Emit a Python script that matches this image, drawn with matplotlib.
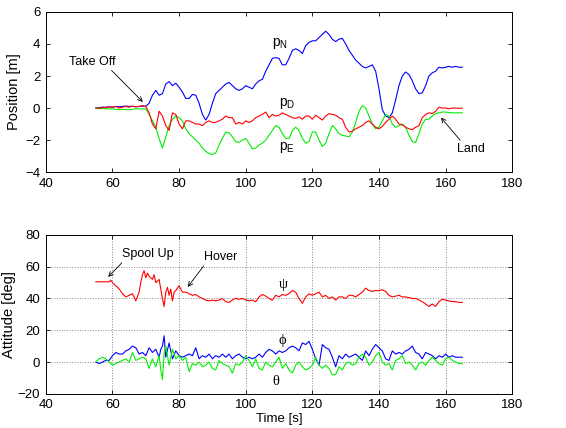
import numpy as np
import matplotlib
matplotlib.use("Agg")
import matplotlib.pyplot as plt

plt.rcParams['font.family'] = ['Liberation Sans', 'DejaVu Sans']
plt.rcParams['mathtext.fontset'] = 'custom'
plt.rcParams['mathtext.rm'] = 'Liberation Sans'

# ---- position data (1 s samples, 55..165 s) ----
tPos = np.arange(55, 166)

pN = [0.0, 0.02, 0.05, 0.05, 0.08, 0.05, 0.1, 0.08, 0.1, 0.12, 0.1, 0.1, 0.08, 0.1, 0.12,
      0.1, 0.3, 0.8, 1.1, 0.8, 0.9, 1.5, 1.65, 1.4, 1.55, 1.3,
      1.0, 0.6, 0.6, 0.85, 0.8, 0.3, -0.4, -0.75, -0.4, 0.3,
      0.9, 1.1, 1.3, 1.5, 1.6, 1.4, 1.2, 1.1, 1.2, 1.4,
      1.3, 1.2, 1.5, 1.7, 1.8, 2.3, 2.7, 3.1, 3.15, 3.1,
      2.7, 2.7, 3.1, 3.6, 3.7, 3.6, 3.4, 3.9, 4.1, 4.2,
      4.2, 4.4, 4.6, 4.8, 4.6, 4.3, 4.15, 4.3, 4.35, 4.0,
      3.6, 3.3, 3.0, 2.8, 2.6, 2.5, 2.6, 2.7, 2.3, 1.2,
      -0.1, -0.5, -0.6, -0.3, 0.5, 1.4, 2.0, 2.25, 2.1, 1.7,
      1.2, 0.9, 0.95, 1.4, 2.0, 2.2, 2.3, 2.55, 2.5, 2.55,
      2.6, 2.55, 2.6, 2.55, 2.55]

pE = [0.0, -0.02, -0.03, -0.05, -0.05, -0.05, -0.08, -0.1, -0.08, -0.1, -0.1, -0.08, -0.05, -0.05, -0.05,
      -0.05, -0.4, -0.8, -1.2, -1.9, -2.5, -1.8, -1.1, -0.7, -0.5, -0.6,
      -0.8, -1.3, -1.6, -1.8, -2.0, -2.2, -2.5, -2.7, -2.85, -2.9,
      -2.8, -2.3, -1.9, -1.5, -1.55, -1.8, -2.1, -2.15, -2.0, -1.9,
      -2.2, -2.55, -2.5, -2.3, -2.2, -2.0, -1.7, -1.4, -1.1, -1.2,
      -1.6, -1.9, -1.9, -1.4, -1.2, -1.4, -1.9, -2.2, -2.1, -1.5,
      -1.5, -2.0, -2.4, -2.2, -1.6, -1.1, -1.3, -1.6, -1.7, -1.75,
      -1.8, -1.5, -0.9, -0.2, 0.15, 0.0, -0.5, -1.0, -1.3, -1.2,
      -0.8, -0.4, -0.5, -1.0, -1.2, -1.1, -1.0, -1.2, -1.7, -2.1,
      -2.15, -1.6, -1.0, -0.7, -0.7, -0.5, -0.35, -0.3, -0.25, -0.25,
      -0.28, -0.3, -0.3, -0.3, -0.3]

pD = [0.0, -0.02, 0.05, 0.02, 0.08, 0.05, 0.1, 0.0, 0.05, 0.1, 0.05, 0.12, 0.08, 0.1, 0.15,
      0.1, -0.3, -1.0, -1.3, -0.2, -0.5, -1.1, -1.4, -0.3, -0.4, -1.0,
      -1.3, -0.8, -0.8, -0.9, -1.0, -1.0, -1.1, -0.9, -0.8, -0.9,
      -0.9, -0.8, -0.7, -0.5, -0.6, -0.6, -1.0, -0.9, -1.0, -0.8,
      -0.9, -0.8, -0.6, -0.5, -0.4, -0.25, -0.6, -0.4, -0.5, -0.45,
      -0.3, -0.4, -0.5, -0.6, -0.65, -0.55, -0.7, -0.5, -0.5, -0.7,
      -0.45, -0.6, -0.75, -0.5, -0.35, -0.4, -0.45, -0.6, -0.7, -1.2,
      -1.5, -1.45, -1.3, -1.2, -1.1, -0.9, -0.8, -1.0, -1.2, -1.3,
      -1.15, -0.9, -0.7, -0.5, -0.7, -1.0, -1.05, -1.2, -1.3, -1.35,
      -1.2, -1.1, -0.6, -0.4, -0.3, -0.35, -0.2, 0.05, 0.0, 0.0,
      -0.05, 0.0, 0.0, -0.02, 0.0]

# ---- attitude data ----
tPsi = [55, 56, 57, 58, 59, 59.5, 60, 61, 62, 63, 64, 65, 66, 67, 68, 68.5, 69, 69.5,
        70, 70.5, 71, 72, 72.5, 73, 74, 74.5, 75, 75.5, 76, 76.5, 77, 77.5, 78, 78.5,
        79, 80, 80.5] + list(range(81, 166))
psi = [50.5, 50.5, 50.5, 50.5, 50.5, 51.5, 50, 48, 46, 43, 41, 42, 43, 38.5, 44, 50, 55, 57.5,
       53, 56, 54, 52, 55, 50, 52, 46, 40, 35, 44, 47, 42, 46, 38.5, 44,
       45, 48, 46,
       44, 44, 43, 42, 42.5, 41, 40, 39, 38.5, 39,
       38.5, 39, 40, 38, 37.5, 39, 40, 39.5, 40, 39,
       38.5, 39, 38, 41, 42.5, 41.5, 40, 39, 42, 41,
       42.5, 42, 43, 45, 44, 40, 37, 41, 43, 42,
       43, 44, 41, 42, 40, 41, 39, 41, 41, 40,
       42, 42, 41, 42.5, 44, 46.5, 45, 44.5, 45, 45,
       45.5, 44.5, 42, 41, 41.5, 42, 41, 41, 40.5, 40,
       40, 39, 38, 36.5, 35, 36.5, 35, 38, 39.5, 39,
       38.5, 38, 38, 37.5, 37.5]

tAng = list(range(55, 75)) + [74.5, 75, 75.5] + list(range(76, 166))
phi = [0, -1, 0, 1, 1, 4, 6, 5, 5, 7, 8, 10, 9, 5, 6, 4, 9, 6, 8, 3,
       8, 10, 16.5,
       3, 12, 2, 7, 4, 3, 4, 5, 4, 9, 2, 4, 3, 5, 2, 4, 3, 5, 3, 5,
       2, 4, 5, 3, 2, 3, 2, 3, 5, 3, 6, 8, 7, 5, 7, 6, 7, 9, 10, 9,
       7, 12, 11, 13, 8, 2, -2, 11, 9, 8, 3, -3, 4, 2, 5, 3, 4, 5, 3, 1,
       7, 4, 8, 11, 9, 7, 2, 1, 7, 5, 6, 5, 7, 8, 10, 6, 5, 2, 6, 5,
       4, 2, 4, 3, 5, 3, 4, 3, 3, 3]
theta = [0, 2, 3, 2, 0, -2, -1, 0, 1, 2, 0, 6, 1, 2, 3, 2, -4, 2, -3, 4,
         -5, -11, 5,
         10, -2, 8, 2, 4, 1, 3, -6, -1, -2, 0, -3, -2, 0, -4, -5, 1, -1, -2,
         -3, -7, -1, -2, 0, 4, 1, -3, 2, -4, -5, 0, -2, -3, 0, 3, -4, -1,
         -5, -7, -2, 0, -3, -5, -4, -2, 3, -2, -4, -2, -4, -8, -8, -3, -5, -1,
         0, -2, -1, 3, 5, 3, -2, 0, 4, 6, 0, -2, -1, -5, 1, 2, 4, -1, 0, -2,
         -5, -1, 0, -2, 1, 3, 1, -1, -2, 2, 3, 1, 0, -1, -1]

fig = plt.figure(figsize=(5.66, 4.28), dpi=100)
ax1 = fig.add_axes([0.081, 0.598, 0.824, 0.374])
ax2 = fig.add_axes([0.081, 0.080, 0.824, 0.371])

lw = 0.8
blue, red, green = '#0000ff', '#ff0000', '#00ee00'
ax1.plot(tPos, pN, color=blue, lw=lw)
ax1.plot(tPos, pE, color=green, lw=lw)
ax1.plot(tPos, pD, color=red, lw=lw)
ax1.set_xlim(40, 180)
ax1.set_ylim(-4, 6)
ax1.set_yticks(range(-4, 7, 2))
ax1.set_ylabel('Position [m]', fontsize=10.5, labelpad=3)

ax1.text(110.3, 4.06, 'p$_\\mathregular{N}$', fontsize=10, ha='center', va='center')
ax1.text(112.4, 0.31, 'p$_\\mathregular{D}$', fontsize=10, ha='center', va='center')
ax1.text(112.4, -2.44, 'p$_\\mathregular{E}$', fontsize=10, ha='center', va='center')
arrow = dict(arrowstyle='->', color='black', lw=0.6, mutation_scale=8, shrinkA=0, shrinkB=0)
ax1.annotate('Take Off', xy=(69.1, 0.38), xytext=(54, 2.9), fontsize=9,
             ha='center', va='center', arrowprops=dict(arrow, relpos=(0.85, 0.0)))
ax1.annotate('Land', xy=(158.6, -0.6), xytext=(167.6, -2.56), fontsize=9,
             ha='center', va='center', arrowprops=dict(arrow, relpos=(0.2, 1.0)))

ax2.plot(tPsi, psi, color=red, lw=lw)
ax2.plot(tAng, phi, color=blue, lw=lw)
ax2.plot(tAng, theta, color=green, lw=lw)
ax2.set_xlim(40, 180)
ax2.set_ylim(-20, 80)
ax2.set_yticks(range(-20, 81, 20))
ax2.grid(True, linestyle=':', color='#888888', lw=0.7)
ax2.set_ylabel('Attitude [deg]', fontsize=10.5, labelpad=1)
ax2.set_xlabel('Time [s]', fontsize=9.5, labelpad=1)

greek = ['Liberation Serif', 'DejaVu Serif']
ax2.text(111.2, 49, '\u03c8', fontsize=10.5, family=greek, ha='center', va='center')
ax2.text(111, 13.3, '\u03d5', fontsize=10.5, family=greek, ha='center', va='center')
ax2.text(109, -12, '\u03b8', fontsize=10.5, family=greek, ha='center', va='center')
ax2.annotate('Spool Up', xy=(58.7, 53.6), xytext=(70.6, 68), fontsize=9,
             ha='center', va='center', arrowprops=dict(arrow, relpos=(0.05, 0.0)))
ax2.annotate('Hover', xy=(82.6, 47.3), xytext=(92.5, 66), fontsize=9,
             ha='center', va='center', arrowprops=dict(arrow, relpos=(0.05, 0.0)))

for ax in (ax1, ax2):
    ax.tick_params(direction='in', top=True, right=True, labelsize=9.5, length=3, width=0.6, pad=4)
    for s in ax.spines.values():
        s.set_linewidth(0.7)

fig.savefig('out.png', dpi=100)
